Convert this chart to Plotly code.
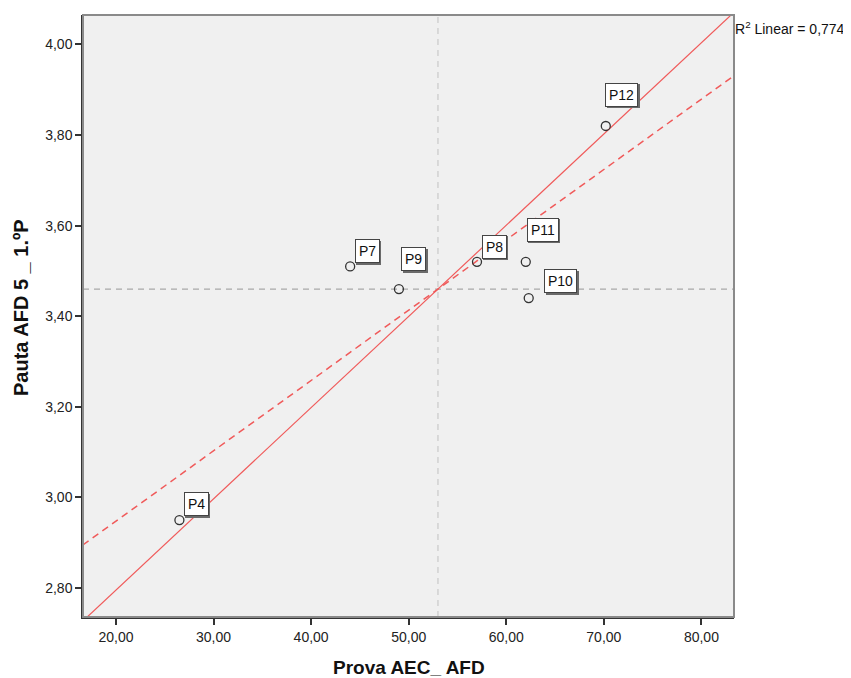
import numpy as np
import plotly.graph_objects as go

# ---- data ----
labels = ["P4", "P7", "P9", "P8", "P11", "P10", "P12"]
prova_aec_afd = [26.5, 44.0, 49.0, 57.0, 62.0, 62.3, 70.2]
pauta_afd5 = [2.95, 3.51, 3.46, 3.52, 3.52, 3.44, 3.82]
x_ticks = [20, 30, 40, 50, 60, 70, 80]
x_tick_text = ["20,00", "30,00", "40,00", "50,00", "60,00", "70,00", "80,00"]
y_ticks = [2.8, 3.0, 3.2, 3.4, 3.6, 3.8, 4.0]
y_tick_text = ["2,80", "3,00", "3,20", "3,40", "3,60", "3,80", "4,00"]
r2_text = "R<sup>2</sup> Linear = 0,774"
x_title = "<b>Prova AEC_ AFD</b>"
y_title = "<b>Pauta AFD 5 _ 1.ºP</b>"

# label offsets in pixels (style)
label_offsets = {"P4": (17, -16), "P7": (17, -15), "P9": (15, -30), "P8": (17, -15),
                 "P11": (17, -32), "P10": (32, -17), "P12": (16, -31)}

X_RANGE = [16.62, 83.34]
Y_RANGE = [2.736, 4.065]
FONT = "Liberation Sans, Arial, sans-serif"

x = np.array(prova_aec_afd)
y = np.array(pauta_afd5)
mx, my = x.mean(), y.mean()
sxy = ((x - mx) * (y - my)).sum()
sxx = ((x - mx) ** 2).sum()
syy = ((y - my) ** 2).sum()
b_yx = sxy / sxx          # regression of y on x (dashed)
b_xy = syy / sxy          # regression of x on y, expressed as dy/dx (solid)

xl = np.array([X_RANGE[0] - 5, X_RANGE[1] + 5])

fig = go.Figure()
red = "rgb(240,90,90)"
fig.add_trace(go.Scatter(x=xl, y=my + b_xy * (xl - mx), mode="lines",
                         line=dict(color=red, width=1.2), hoverinfo="skip", showlegend=False))
fig.add_trace(go.Scatter(x=xl, y=my + b_yx * (xl - mx), mode="lines",
                         line=dict(color=red, width=1.5, dash="7px,5px"), hoverinfo="skip", showlegend=False))
fig.add_trace(go.Scatter(x=x, y=y, mode="markers",
                         marker=dict(symbol="circle-open", size=9, color="#333333",
                                     line=dict(width=1.3, color="#333333")),
                         showlegend=False))

# mean reference lines
fig.add_shape(type="line", xref="x", yref="paper", x0=mx, x1=mx, y0=0, y1=1,
              line=dict(color="#C8C8C8", width=1.2, dash="6px,5px"), layer="below")
fig.add_shape(type="line", xref="paper", yref="y", x0=0, x1=1, y0=my, y1=my,
              line=dict(color="#A8A8A8", width=1.2, dash="6px,5px"), layer="below")
# frame top/right
fig.add_shape(type="rect", xref="paper", yref="paper", x0=0, x1=1, y0=0, y1=1,
              line=dict(color="#8A8A8A", width=2), layer="above")

for lab, xv, yv in zip(labels, prova_aec_afd, pauta_afd5):
    ax, ay = label_offsets[lab]
    # shadow
    fig.add_annotation(x=xv, y=yv, text=lab, showarrow=True, arrowcolor="rgba(0,0,0,0)",
                       ax=ax + 1.5, ay=ay + 1.5, axref="pixel", ayref="pixel",
                       font=dict(family=FONT, size=14, color="#6a6a6a"),
                       bgcolor="#6a6a6a", bordercolor="#6a6a6a", borderwidth=1, borderpad=3)
    fig.add_annotation(x=xv, y=yv, text=lab, showarrow=True, arrowcolor="rgba(0,0,0,0)",
                       ax=ax, ay=ay, axref="pixel", ayref="pixel",
                       font=dict(family=FONT, size=14, color="#111111"),
                       bgcolor="white", bordercolor="#444444", borderwidth=1, borderpad=3)

fig.add_annotation(xref="paper", yref="paper", x=1, y=1, xanchor="left", yanchor="middle",
                   xshift=-1, yshift=-13, text=r2_text, showarrow=False,
                   font=dict(family=FONT, size=14, color="#111111"))

# axis titles
fig.add_annotation(xref="paper", yref="paper", x=0.5, y=0, xanchor="center", yanchor="middle",
                   yshift=-50, text=x_title, showarrow=False,
                   font=dict(family=FONT, size=19, color="#111111"))
fig.add_annotation(xref="paper", yref="paper", x=0, y=0.5, xanchor="center", yanchor="middle",
                   xshift=-62, yshift=8, text=y_title, showarrow=False, textangle=-90,
                   font=dict(family=FONT, size=20, color="#111111"))

axis_font = dict(family=FONT, size=14, color="#222222")
fig.update_xaxes(range=X_RANGE, tickvals=x_ticks, ticktext=x_tick_text, showgrid=False,
                 zeroline=False, showline=True, linecolor="#333333", linewidth=1.5,
                 ticks="outside", ticklen=6, tickcolor="#333333", tickwidth=1.5,
                 tickfont=axis_font, automargin=False)
fig.update_yaxes(range=Y_RANGE, tickvals=y_ticks, ticktext=y_tick_text, showgrid=False,
                 zeroline=False, showline=True, linecolor="#333333", linewidth=1.5,
                 ticks="outside", ticklen=6, tickcolor="#333333", tickwidth=1.5,
                 tickfont=axis_font, automargin=False)

# page body has an 8px margin, so the figure is 8px smaller and shifted
fig.update_layout(width=843, height=670, margin=dict(l=75, r=117, t=7, b=61),
                  plot_bgcolor="#F0F0F0", paper_bgcolor="white", showlegend=False)
fig.write_html("out.html")
